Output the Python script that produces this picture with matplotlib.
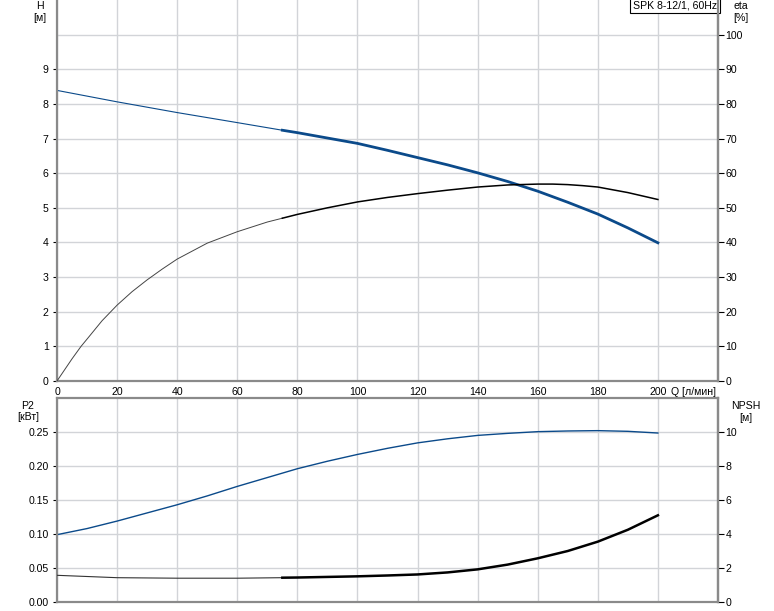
import matplotlib
matplotlib.use('Agg')
import matplotlib.pyplot as plt

plt.rcParams['font.family'] = ['Liberation Sans', 'DejaVu Sans']
plt.rcParams['font.size'] = 7.6

# Data
q_h = [0, 20, 40, 60, 75, 80, 100, 110, 120, 130, 140, 150, 160, 170, 180, 190, 200]
head = [8.39, 8.06, 7.75, 7.46, 7.24, 7.17, 6.86, 6.66, 6.45, 6.24, 6.01, 5.76,
        5.48, 5.16, 4.82, 4.42, 3.99]

q_eta = [0, 5, 8, 10, 15, 20, 25, 30, 35, 40, 50, 60, 70, 75, 80, 90, 100, 110,
         120, 130, 140, 150, 160, 165, 170, 175, 180, 190, 200]
eta = [0, 6.4, 10, 12.1, 17.4, 21.9, 25.8, 29.2, 32.3, 35.2, 39.8, 43.1, 45.9,
       47.0, 48.1, 50.0, 51.7, 53.0, 54.1, 55.1, 56.0, 56.6, 56.85, 56.85, 56.7,
       56.4, 56.0, 54.4, 52.4]

q_p2 = [0, 10, 20, 30, 40, 50, 60, 70, 80, 90, 100, 110, 120, 130, 140, 150,
        160, 170, 180, 190, 200]
p2 = [0.099, 0.108, 0.119, 0.131, 0.143, 0.156, 0.170, 0.183, 0.196, 0.207,
      0.217, 0.226, 0.234, 0.240, 0.245, 0.248, 0.2505, 0.2515, 0.252, 0.251, 0.2485]

q_npsh = [0, 20, 40, 60, 75, 80, 100, 110, 120, 130, 140, 150, 160, 170, 180, 190, 200]
npsh = [1.57, 1.43, 1.40, 1.40, 1.43, 1.44, 1.51, 1.56, 1.62, 1.74, 1.92, 2.2,
        2.57, 3.0, 3.55, 4.25, 5.1]

x_ticks = [0, 20, 40, 60, 80, 100, 120, 140, 160, 180, 200]
x_labels = ['0', '20', '40', '60', '80', '100', '120', '140', '160', '180', '200']
h_ticks = [0, 1, 2, 3, 4, 5, 6, 7, 8, 9]
eta_ticks = [0, 10, 20, 30, 40, 50, 60, 70, 80, 90, 100]
p2_ticks = [0.0, 0.05, 0.10, 0.15, 0.20, 0.25]
npsh_ticks = [0, 2, 4, 6, 8, 10]

BLUE = '#0b4a8a'
GRID = '#d2d4d8'
SPINE = '#8a8a8a'
W, H = 774, 611


def split(qs, vs, at):
    a = [(x, v) for x, v in zip(qs, vs) if x <= at]
    b = [(x, v) for x, v in zip(qs, vs) if x >= at]
    return list(zip(*a)), list(zip(*b))


def style(ax, twin):
    for s in ax.spines.values():
        s.set_color(SPINE)
        s.set_linewidth(1.6)
    ax.spines['top'].set_visible(False)
    for s in twin.spines.values():
        s.set_visible(False)
    twin.spines['right'].set_visible(True)
    twin.spines['right'].set_color(SPINE)
    twin.spines['right'].set_linewidth(1.6)
    ax.tick_params(axis='y', length=3, width=0.8, pad=3, colors='black')
    twin.tick_params(axis='y', length=4, width=0.8, pad=1.5, colors='black')
    ax.grid(True, color=GRID, linewidth=1)
    ax.set_axisbelow(True)


fig = plt.figure(figsize=(W / 100, H / 100), dpi=100)

# ── Top: H and eta ──
ax1 = fig.add_axes([57 / W, 1 - 381 / H, 661 / W, 381 / H])
ax1b = ax1.twinx()
ax1.set_xlim(0, 220)
ax1.set_ylim(0, 11)
ax1b.set_ylim(0, 110)
ax1.set_xticks(x_ticks + [220])
ax1.set_xticklabels(x_labels + [''])
ax1.tick_params(axis='x', length=0, pad=4)
ax1.set_yticks(h_ticks)
ax1b.set_yticks(eta_ticks)
ax1.axhline(10, color=GRID, linewidth=1, zorder=0)
style(ax1, ax1b)

(a, b) = split(q_h, head, 75)
ax1.plot(a[0], a[1], color=BLUE, linewidth=0.8)
ax1.plot(b[0], b[1], color=BLUE, linewidth=2.0)
(a, b) = split(q_eta, eta, 75)
ax1b.plot(a[0], a[1], color='#444444', linewidth=0.7)
ax1b.plot(b[0], b[1], color='black', linewidth=1.1)

ax1.annotate('Q [л/мин]', xy=(204.5, 0), xycoords='data', xytext=(0, -4.3),
             textcoords='offset points', ha='left', va='top')
ax1.text(0.9985, 0.999, 'SPK 8-12/1, 60Hz', transform=ax1.transAxes,
         ha='right', va='top', fontsize=7.6,
         bbox=dict(boxstyle='square,pad=0.25', facecolor='white',
                   edgecolor='black', linewidth=0.8))

# ── Bottom: P2 and NPSH ──
ax2 = fig.add_axes([57 / W, 1 - 602 / H, 661 / W, 204 / H])
ax2b = ax2.twinx()
ax2.set_xlim(0, 220)
ax2.set_ylim(0, 0.3)
ax2b.set_ylim(0, 12)
ax2.set_xticks(x_ticks + [220])
ax2.set_xticklabels([])
ax2.tick_params(axis='x', length=0)
ax2.set_yticks(p2_ticks)
ax2.set_yticklabels(['%.2f' % v for v in p2_ticks])
ax2b.set_yticks(npsh_ticks)
style(ax2, ax2b)
ax2.spines['top'].set_visible(True)

ax2.plot(q_p2, p2, color=BLUE, linewidth=1.0)
(a, b) = split(q_npsh, npsh, 75)
ax2b.plot(a[0], a[1], color='#333333', linewidth=0.8)
ax2b.plot(b[0], b[1], color='black', linewidth=1.8)

# axis captions
fig.text(40 / W, 1 - 6 / H, 'H', ha='center', va='center')
fig.text(40 / W, 1 - 18 / H, '[м]', ha='center', va='center')
fig.text(741 / W, 1 - 6 / H, 'eta', ha='center', va='center')
fig.text(741 / W, 1 - 18 / H, '[%]', ha='center', va='center')
fig.text(28 / W, 1 - 406 / H, 'P2', ha='center', va='center')
fig.text(28 / W, 1 - 417 / H, '[кВт]', ha='center', va='center')
fig.text(746 / W, 1 - 406 / H, 'NPSH', ha='center', va='center')
fig.text(746 / W, 1 - 418 / H, '[м]', ha='center', va='center')

fig.savefig('out.png', dpi=100)
